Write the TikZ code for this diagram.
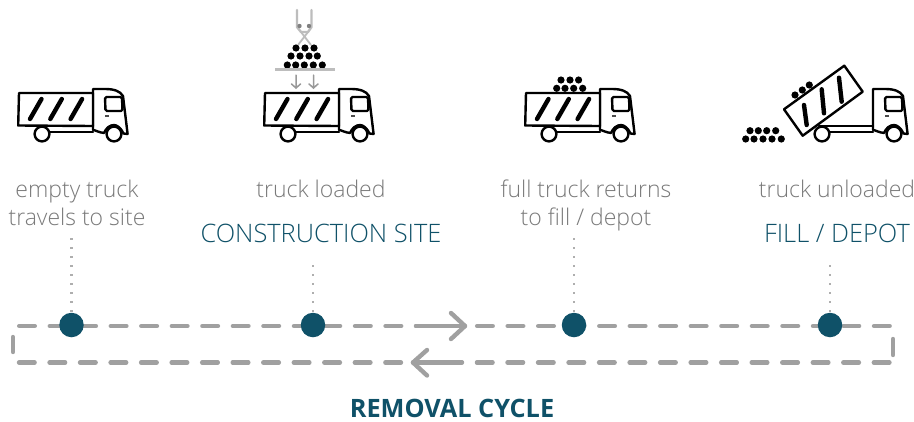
\documentclass[tikz,border=0pt]{standalone}
\usepackage{fontspec}
\setmainfont{Open Sans}
\newfontfamily\lightfont{Open Sans Light}
\definecolor{teal}{HTML}{0F5168}
\definecolor{dashgrey}{HTML}{A0A0A0}
\definecolor{txtgrey}{HTML}{7A7A7A}
\definecolor{craneg}{HTML}{BDBDBD}
\tikzset{
  x=1pt,y=-1pt,
  outline/.style={draw=black,line width=2.4pt,line join=round,line cap=round},
  stripe/.style={draw=black,line width=4.4pt,line cap=round},
  ball/.style={fill=black},
  cycleline/.style={draw=dashgrey,line width=4.4pt,line cap=round,dash pattern=on 15.6pt off 14.93pt},
  cyclearrow/.style={draw=dashgrey,line width=4.4pt,line cap=round,line join=round},
  dotline/.style={draw=dashgrey!85,line width=2.1pt,dash pattern=on 2.1pt off 6.9pt},
  dotmark/.style={circle,fill=teal,draw=none,minimum size=24.5pt,inner sep=0pt},
  greytxt/.style={text=txtgrey,font=\lightfont\fontsize{23}{27}\selectfont,inner sep=0pt,anchor=base},
  bluetxt/.style={text=teal,font=\lightfont\fontsize{25.4}{29}\selectfont,inner sep=0pt,anchor=base},
  titletxt/.style={text=teal,font=\fontsize{25.3}{29}\selectfont\bfseries,inner sep=0pt,anchor=base},
  cabin/.pic={
    \draw[outline,fill=white] (74,-4) -- (86,-4) .. controls (95,-4) and (101,-2) .. (104,3) -- (108.6,41)
      -- (104.5,40.5) .. controls (102,35) and (98,32) .. (95,32) .. controls (91,32) and (87,35) .. (85,40) .. controls (80,39.5) and (76,37) .. (74,37) -- cycle;
    \draw[outline,fill=white,rounded corners=1.5pt] (86,4) -- (103,4) -- (103.5,18) -- (86.5,18) -- cycle;
    \draw[line width=1.2pt,draw=black!70] (86,23) -- (90,23);
    \draw[outline] (30,39) -- (74,39);
    \draw[outline] (20,33) -- (74,33);
    \draw[outline,fill=white] (23,41) circle[radius=7.4];
    \draw[outline,fill=white] (95,41) circle[radius=7.4];
  },
  bed/.pic={
    \draw[outline,fill=white] (0,0) -- (74,0) -- (74,33) -- (-0.8,32.5) -- cycle;
    \foreach \d in {0,20.3,40.6}{\draw[stripe] (11+\d,26) -- (22.5+\d,6);}
  },
}
\begin{document}
\begin{tikzpicture}
\useasboundingbox (0,0) rectangle (914,421);
\fill[white] (0,0) rectangle (914,421);

% Trucks
\pic at (19,93) {cabin}; \pic at (19,93) {bed};
\pic at (265,93) {cabin}; \pic at (265,93) {bed};
\pic at (526,93) {cabin}; \pic at (526,93) {bed};
\pic at (799,93) {cabin};
\draw[outline,fill=white] (844.3,65.7) -- (862.7,91.7) -- (802.7,135.7) -- (784,109.3) -- cycle;
\draw[stripe] (806.7,125) -- (804,105);
\draw[stripe] (824,113.3) -- (821.7,89.3);
\draw[stripe] (841.7,101.7) -- (839,77.7);

% Balls
\foreach \x/\y in {287.3/65,295.7/65,304.3/65,313.3/65,322.3/65,291/56,300/56,309/56,317.3/56,296/48,305/48,314/48,
  556.7/88.3,565/88.3,573.7/88.3,582.7/88.3,561/80,570/80,578.6/80,
  795/95,802.3/90,809.3/85,
  745.7/139,754/139,763/139,772/139,781.3/139,750/130.7,758.3/130.7,766.7/130.7,775.7/130.7}
  {\fill[ball] (\x,\y) circle[radius=3.6];}

% Crane
\draw[craneg,line width=2.4pt,line cap=round,line join=round] (297,10) -- (297,27) -- (301,32) -- (308,32) -- (311.5,27) -- (311.5,10);
\draw[craneg,line width=1.8pt] (301,32) -- (311,45) (308,32) -- (298,45);
\fill[gray] (299.5,26) circle[radius=2.2] (309,26) circle[radius=2.2];
\draw[craneg,line width=2.4pt] (275,69.5) -- (335,69.5);
\draw[gray!80,line width=1.5pt,line cap=round] (296,75) -- (296,88) (291.5,84) -- (296,88) -- (300.5,84);
\draw[gray!80,line width=1.5pt,line cap=round] (313.5,75) -- (313.5,88) (309,84) -- (313.5,88) -- (318,84);

% Cycle line
\coordinate (tl) at (19.2,326); \coordinate (tr) at (890,326);
\coordinate (bl) at (19,362.5); \coordinate (br) at (890,362.5);
\coordinate (ll) at (13,337); \coordinate (lb) at (13,352);
\coordinate (rt) at (893,339); \coordinate (rb) at (893,355);
\draw[cycleline] (tl) -- (tr);
\draw[cycleline] (bl) -- (br);
\draw[cyclearrow] (ll) -- (lb);
\draw[cyclearrow] (rt) -- (rb);
\coordinate (atip) at (465,326); \coordinate (atail) at (416,326);
\coordinate (btip) at (413,362.5); \coordinate (btail) at (461,362.5);
\draw[cyclearrow] (atail) -- (atip);
\draw[cyclearrow] (451,313) -- (atip) -- (451,339);
\draw[cyclearrow] (btail) -- (btip);
\draw[cyclearrow] (427,350) -- (btip) -- (427,375.5);

% Markers
\node[dotmark] (m1) at (71.5,325) {};
\node[dotmark] (m2) at (313,325) {};
\node[dotmark] (m3) at (574,325) {};
\node[dotmark] (m4) at (830,325) {};
\coordinate (d1) at (71.5,238); \coordinate (d2) at (313,265);
\coordinate (d3) at (574,238); \coordinate (d4) at (830,265);
\draw[dotline] (d1) -- (m1.north);
\draw[dotline] (d2) -- (m2.north);
\draw[dotline] (d3) -- (m3.north);
\draw[dotline] (d4) -- (m4.north);

% Text
\node[greytxt] (t1a) at (77,197) {empty truck};
\node[greytxt] (t1b) at (77,225) {travels to site};
\node[greytxt] (t2a) at (321,197) {truck loaded};
\node[bluetxt] (t2b) at (321,242) {CONSTRUCTION SITE};
\node[greytxt] (t3a) at (586,197) {full truck returns};
\node[greytxt] (t3b) at (586,225) {to fill / depot};
\node[greytxt] (t4a) at (837,197) {truck unloaded};
\node[bluetxt] (t4b) at (837,242) {FILL / DEPOT};
\node[titletxt] (title) at (452,417) {REMOVAL CYCLE};
\end{tikzpicture}
\end{document}
